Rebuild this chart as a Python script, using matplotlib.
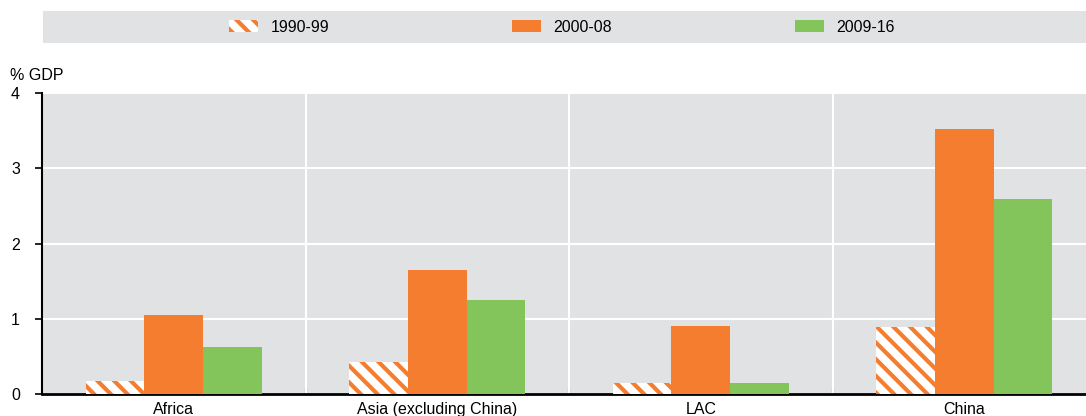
import numpy as np
import matplotlib.pyplot as plt
from matplotlib.patches import Rectangle

plt.rcParams['font.family'] = ['Liberation Sans', 'DejaVu Sans']
plt.rcParams['hatch.linewidth'] = 3.0

regions = ['Africa', 'Asia (excluding China)', 'LAC', 'China']
periods = ['1990-99', '2000-08', '2009-16']
v_1990_99 = [0.17, 0.42, 0.15, 0.89]
v_2000_08 = [1.05, 1.65, 0.90, 3.52]
v_2009_16 = [0.62, 1.25, 0.15, 2.59]

orange = '#f47d30'
green = '#83c55a'
bg = '#e1e2e4'

fig = plt.figure(figsize=(10.86, 4.16), dpi=100)
ax = fig.add_axes([42 / 1086, 22 / 416, 1 - 42 / 1086, 301 / 416])
ax.set_facecolor(bg)

x = np.arange(len(regions))
w = 0.223
b1 = ax.bar(x - w, v_1990_99, w, facecolor='white', edgecolor=orange,
            hatch='\\\\', linewidth=0, label=periods[0], zorder=3)
b2 = ax.bar(x, v_2000_08, w, color=orange, linewidth=0, label=periods[1], zorder=3)
b3 = ax.bar(x + w, v_2009_16, w, color=green, linewidth=0, label=periods[2], zorder=3)

ax.set_xlim(-0.5, 3.462)
ax.set_ylim(0, 4)
ax.set_yticks([0, 1, 2, 3, 4])
ax.yaxis.grid(True, color='white', linewidth=1.5, zorder=1)
for b in [0.5, 1.5, 2.5]:
    ax.axvline(b, color='white', linewidth=1.5, zorder=1)
ax.set_axisbelow(True)

ax.set_xticks(x)
ax.set_xticklabels(regions, fontsize=11.5)
ax.tick_params(axis='x', length=0, pad=6)
ax.set_xticks([0.5, 1.5, 2.5], minor=True)
ax.tick_params(axis='x', which='minor', direction='in', length=4, width=1.5, color='black')
ax.tick_params(axis='y', direction='out', length=5, width=1.2, labelsize=11.5, pad=14)
for lab in ax.get_yticklabels():
    lab.set_horizontalalignment('center')

for s in ['top', 'right']:
    ax.spines[s].set_visible(False)
ax.spines['left'].set_linewidth(1.5)
ax.spines['bottom'].set_linewidth(2)

fig.text(10 / 1086, 1 - 75 / 416, '% GDP', fontsize=11.5, va='center', ha='left')

# legend strip
fig.patches.append(Rectangle((43 / 1086, 1 - 43 / 416), 1 - 43 / 1086, 32 / 416,
                             transform=fig.transFigure, facecolor=bg, edgecolor='none'))
fig.legend(handles=[b1, b2, b3], loc='center', bbox_to_anchor=(562 / 1086, 1 - 27 / 416),
           ncol=3, frameon=False, fontsize=11.5, handlelength=1.8, handleheight=0.8,
           handletextpad=0.8, columnspacing=11.45)

fig.savefig('out.png', dpi=100)
